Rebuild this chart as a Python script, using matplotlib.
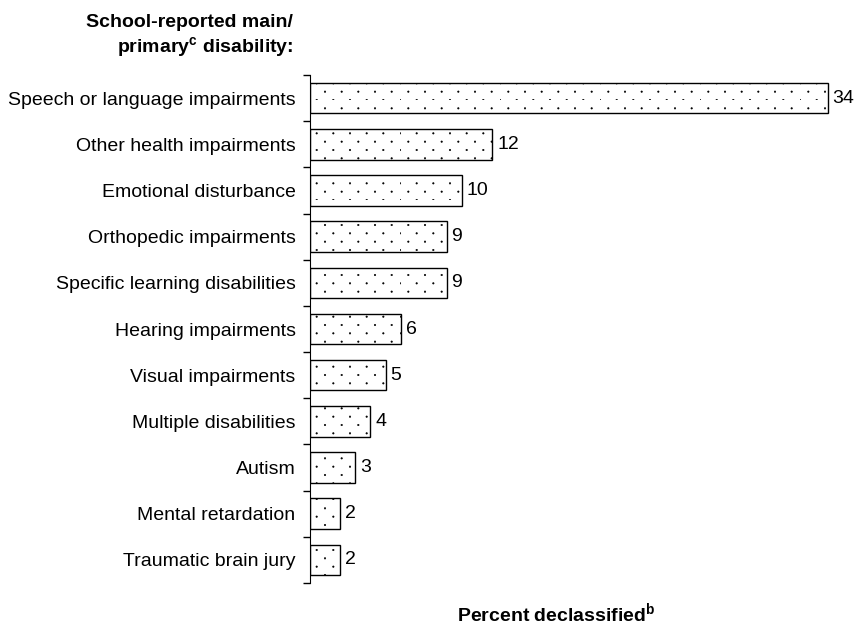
import matplotlib
matplotlib.use("Agg")
import numpy as np
import matplotlib.pyplot as plt
import matplotlib.hatch as mhatch
from matplotlib.path import Path

plt.rcParams['font.family'] = ['Liberation Sans', 'DejaVu Sans']
plt.rcParams['mathtext.fontset'] = 'custom'
plt.rcParams['mathtext.rm'] = 'Liberation Sans'
plt.rcParams['mathtext.bf'] = 'Liberation Sans:bold'
plt.rcParams['hatch.linewidth'] = 0.4
plt.rcParams['hatch.color'] = '#222222'

categories = ["Speech or language impairments", "Other health impairments",
              "Emotional disturbance", "Orthopedic impairments",
              "Specific learning disabilities", "Hearing impairments",
              "Visual impairments", "Multiple disabilities", "Autism",
              "Mental retardation", "Traumatic brain jury"]
values = [34, 12, 10, 9, 9, 6, 5, 4, 3, 2, 2]


# Sparse staggered dot hatch (rows closer than columns), replacing '.'
class SparseDots:
    def __init__(self, hatch, density):
        n = hatch.count('.')
        verts, codes = [], []
        if n:
            rows, cols = 12, 6
            circ = Path.unit_circle()
            r = 0.0075
            for row in range(rows):
                shift = 0.5 / cols if row % 2 else 0.0
                for c in range(cols):
                    cx = c / cols + shift
                    cy = row / rows
                    verts.append(circ.vertices * r + [cx, cy])
                    codes.append(circ.codes)
        if verts:
            self._v = np.concatenate(verts)
            self._c = np.concatenate(codes)
        else:
            self._v = np.zeros((0, 2))
            self._c = np.zeros(0, dtype=Path.code_type)
        self.num_vertices = len(self._v)

    def set_vertices_and_codes(self, vertices, codes):
        vertices[:] = self._v
        codes[:] = self._c


mhatch._hatch_types = [t for t in mhatch._hatch_types
                       if t is not mhatch.SmallFilledCircles] + [SparseDots]

fig = plt.figure(figsize=(8.57, 6.3), dpi=100)
ax = fig.add_axes([309.5/857, 1-583/630, (843-309.5)/857, (583-75)/630])

y = list(range(len(categories)))
ax.barh(y, values, height=0.66, color='white', edgecolor='black', linewidth=1.0, hatch='.')
ax.set_ylim(len(categories)-0.5, -0.5)
ax.set_xlim(0, 35)
ax.set_yticks(y)
ax.set_yticklabels(categories, fontsize=14)
ax.tick_params(axis='y', length=0, pad=10)
ax.set_yticks([i - 0.5 for i in range(len(categories)+1)], minor=True)
ax.tick_params(axis='y', which='minor', length=5, width=1)
for s in ['top', 'right', 'bottom']:
    ax.spines[s].set_visible(False)
ax.set_xticks([])
for yi, v in zip(y, values):
    ax.annotate(f"{v}", (v, yi), xytext=(3.5, 0), textcoords='offset points',
                va='center', ha='left', fontsize=14)

fig.text(293/857, 1-27/630, "School-reported main/", ha='right', va='baseline',
         fontsize=14, fontweight='bold')
fig.text(293/857, 1-53/630, r"primary$^{\mathbf{c}}$ disability:", ha='right', va='baseline',
         fontsize=14, fontweight='bold')
fig.text(556/857, 1-622/630, r"Percent declassified$^{\mathbf{b}}$", ha='center', va='baseline',
         fontsize=14, fontweight='bold')

fig.savefig("out.png", dpi=100)
